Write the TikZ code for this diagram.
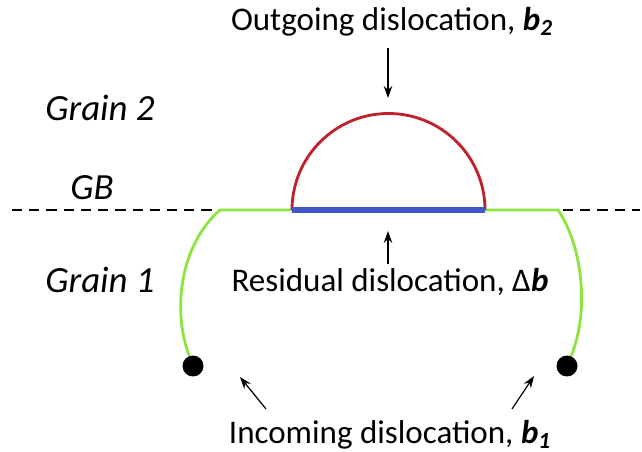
\documentclass[tikz,border=0pt]{standalone}
\usepackage{fontspec}
\setmainfont{Carlito}
\usetikzlibrary{arrows.meta}

\definecolor{loopgreen}{RGB}{140,228,60}
\definecolor{loopred}{RGB}{192,32,44}
\definecolor{loopblue}{RGB}{64,86,196}
\newcommand{\bvec}[1]{\textbf{\textit{#1}}}

\begin{document}
\begin{tikzpicture}[
    x=0.02cm, y=-0.02cm,
    lbl/.style={font=\fontsize{18.8}{21}\selectfont, inner sep=0pt},
    grain/.style={font=\fontsize{21}{24}\selectfont\itshape, inner sep=0pt},
    arr/.style={-{Stealth[length=2.4mm, width=1.7mm]}, line width=0.7pt},
    dot/.style={circle, fill=black, minimum size=0.42cm, inner sep=0pt},
    loop/.style={line width=1.6pt}]

  \useasboundingbox (0,0) rectangle (642,452);

  % === grain boundary ===
  \coordinate (gbL) at (12,210);
  \coordinate (gbR) at (640,210);
  \coordinate (pL) at (220,210);
  \coordinate (bL) at (292,210);
  \coordinate (bR) at (485,210);
  \coordinate (pR) at (558,210);
  \draw[line width=1.2pt, dash pattern=on 5.8pt off 4pt] (gbL) -- (gbR);

  % === dislocations ===
  \node[dot] (pinL) at (193,366) {};
  \node[dot] (pinR) at (567,366) {};
  \draw[loop, loopgreen] (pinL) .. controls (172,310) and (180,245) .. (pL) -- (bL);
  \draw[loop, loopgreen] (pinR) .. controls (590,310) and (582,245) .. (pR) -- (bR);
  \draw[loop, loopred] (bL) arc[start angle=180, end angle=360, radius=96.5];
  \draw[line width=3.8pt, loopblue] (bL) -- (bR);

  % === labels ===
  \node[grain] (g2) at (100,108) {Grain 2};
  \node[grain] (gb) at (92,188) {GB};
  \node[grain] (g1) at (100,280) {Grain 1};
  \node[lbl] (out) at (392,22) {Outgoing dislocation, \bvec{b\textsubscript{2}}};
  \node[lbl] (res) at (390,282) {Residual dislocation, Δ\bvec{b}};
  \node[lbl] (inc) at (390,435) {Incoming dislocation, \bvec{b\textsubscript{1}}};

  % === pointers ===
  \coordinate (top) at (388,98);
  \coordinate (mid) at (388,231);
  \coordinate (aL) at (240,377);
  \coordinate (aR) at (534,376);
  \draw[arr] (out.south -| top) ++(0,11) -- (top);
  \draw[arr] (res.north -| mid) ++(0,-4) -- (mid);
  \draw[arr] (266,409) -- (aL);
  \draw[arr] (512,409) -- (aR);

\end{tikzpicture}
\end{document}
